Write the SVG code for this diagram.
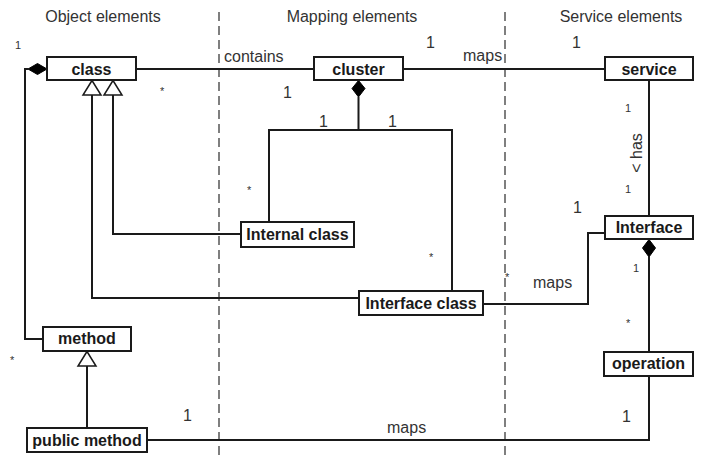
<svg xmlns="http://www.w3.org/2000/svg" width="705" height="457" viewBox="0 0 705 457">
<style>
.box{fill:#fff;stroke:#1a1a1a;stroke-width:2}
.nl{font-family:"Liberation Sans",Arial,sans-serif;font-weight:bold;font-size:16px;fill:#1a1a1a;text-anchor:middle}
.t{font-family:"Liberation Sans",Arial,sans-serif;font-size:16px;fill:#333}
.s{font-family:"Liberation Sans",Arial,sans-serif;font-size:11px;fill:#333}
.c{fill:none;stroke:#1a1a1a;stroke-width:2}
.d{fill:#000;stroke:#000;stroke-width:1}
.g{fill:#fff;stroke:#1a1a1a;stroke-width:1.5}
.dash{stroke:#555;stroke-width:1.5;stroke-dasharray:9,5;fill:none}
</style>
<rect width="705" height="457" fill="#fff"/>
<g id="separators">
<line class="dash" x1="219" y1="12" x2="219" y2="457"/>
<line class="dash" x1="505" y1="12" x2="505" y2="457"/>
</g>
<g id="titles">
<text class="t" x="103" y="22" text-anchor="middle">Object elements</text>
<text class="t" x="352" y="22" text-anchor="middle">Mapping elements</text>
<text class="t" x="621" y="22" text-anchor="middle">Service elements</text>
</g>
<g id="connectors">
<path class="c" d="M136,69 H314"/>
<path class="c" d="M403,69 H605"/>
<path class="c" d="M43,339 H25 V69 H28"/>
<polygon class="d" points="28,69 37.5,63.5 47,69 37.5,74.5"/>
<path class="c" d="M241,234 H113 V95"/>
<polygon class="g" points="113,80.5 104,95 122,95"/>
<path class="c" d="M359,298 H92 V95"/>
<polygon class="g" points="92,80.5 83,95 101,95"/>
<path class="c" d="M269,222 V130 H452 V291 M358.5,97 V130"/>
<polygon class="d" points="358.5,80.5 365,88.5 358.5,97 352,88.5"/>
<path class="c" d="M649,80 V216"/>
<path class="c" d="M483,304 H588 V233 H605"/>
<path class="c" d="M649,257 V352"/>
<polygon class="d" points="649,239.5 655.5,248 649,257 642.5,248"/>
<path class="c" d="M147,440 H649 V376"/>
<path class="c" d="M87,428 V366"/>
<polygon class="g" points="87,351.5 78,366 96,366"/>
</g>
<g id="labels">
<text class="s" x="15" y="49">1</text>
<text class="s" x="160" y="95">*</text>
<text class="t" x="224" y="62">contains</text>
<text class="t" x="283" y="98">1</text>
<text class="t" x="426" y="48">1</text>
<text class="t" x="463" y="61">maps</text>
<text class="t" x="572" y="48">1</text>
<text class="t" x="319" y="127">1</text>
<text class="t" x="388" y="127">1</text>
<text class="s" x="247" y="194">*</text>
<text class="s" x="429" y="261">*</text>
<text class="s" x="625" y="112">1</text>
<text class="t" transform="translate(642,153) rotate(-90)" text-anchor="middle">&lt; has</text>
<text class="s" x="625" y="193">1</text>
<text class="t" x="573" y="213">1</text>
<text class="s" x="633" y="272">1</text>
<text class="s" x="505" y="281">*</text>
<text class="t" x="533" y="288">maps</text>
<text class="s" x="626" y="327">*</text>
<text class="t" x="622" y="422">1</text>
<text class="t" x="183" y="421">1</text>
<text class="t" x="387" y="433">maps</text>
<text class="s" x="10" y="364">*</text>
</g>
<g id="class"><rect class="box" x="47" y="57" width="89" height="23"/><text class="nl" x="91.5" y="75">class</text></g>
<g id="cluster"><rect class="box" x="314" y="57" width="89" height="23"/><text class="nl" x="358.5" y="75">cluster</text></g>
<g id="service"><rect class="box" x="605" y="57" width="88" height="23"/><text class="nl" x="649" y="75">service</text></g>
<g id="internal-class"><rect class="box" x="241" y="222" width="113" height="25"/><text class="nl" x="297.5" y="240">Internal class</text></g>
<g id="interface"><rect class="box" x="605" y="216" width="88" height="23"/><text class="nl" x="649" y="233">Interface</text></g>
<g id="interface-class"><rect class="box" x="359" y="291" width="124" height="24"/><text class="nl" x="421" y="309">Interface class</text></g>
<g id="method"><rect class="box" x="43" y="327" width="88" height="24"/><text class="nl" x="87" y="344">method</text></g>
<g id="operation"><rect class="box" x="604" y="352" width="89" height="24"/><text class="nl" x="648.5" y="369">operation</text></g>
<g id="public-method"><rect class="box" x="27" y="428" width="120" height="24"/><text class="nl" x="87" y="446">public method</text></g>
</svg>
